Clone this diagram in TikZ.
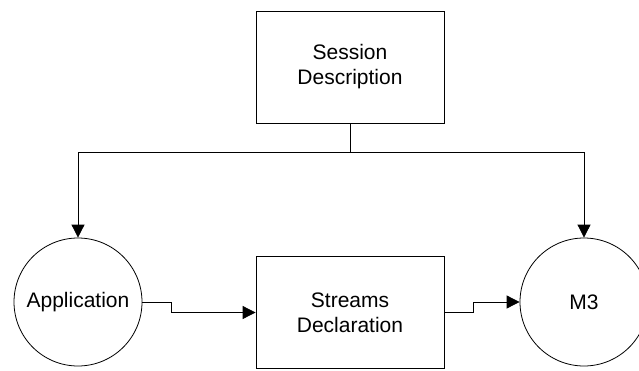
\documentclass[tikz,border=0pt]{standalone}
\usepackage{fontspec}
\setmainfont{Liberation Sans}
\usepackage{tikz}
\usetikzlibrary{arrows.meta}

\tikzset{
    blockbox/.style={draw, rectangle, inner sep=0pt, minimum width=188pt, minimum height=112pt, align=center},
    procnode/.style={draw, circle, inner sep=0pt, minimum size=128pt, align=center},
    flow/.style={-{Triangle[length=13pt,width=13pt]}}
}

\begin{document}
\begin{tikzpicture}[x=1pt,y=1pt,line width=0.8pt,font=\fontsize{21}{25}\selectfont]
        \useasboundingbox (0,0) rectangle (639,370);
        % Blocks and processes
        \node[blockbox] (sessdesc) at (350,303) {Session\\Description};
        \node[blockbox] (streams) at (350,57.5) {Streams\\Declaration};
        \node[procnode] (app) at (78,68) {Application};
        \node[procnode] (mthree) at (584,68) {M3};
        % Session description feeds both ends
        \draw (sessdesc.south) -- (350,218) coordinate (split);
        \draw[flow] (split) -| (app.north);
        \draw[flow] (split) -| (mthree.north);
        % Stepped links through the streams block
        \draw[flow] (app.east) -- ++(29,0) |- (streams.west);
        \draw[flow] (streams.east) -- ++(29,0) |- (mthree.west);
        \end{tikzpicture}
\end{document}
